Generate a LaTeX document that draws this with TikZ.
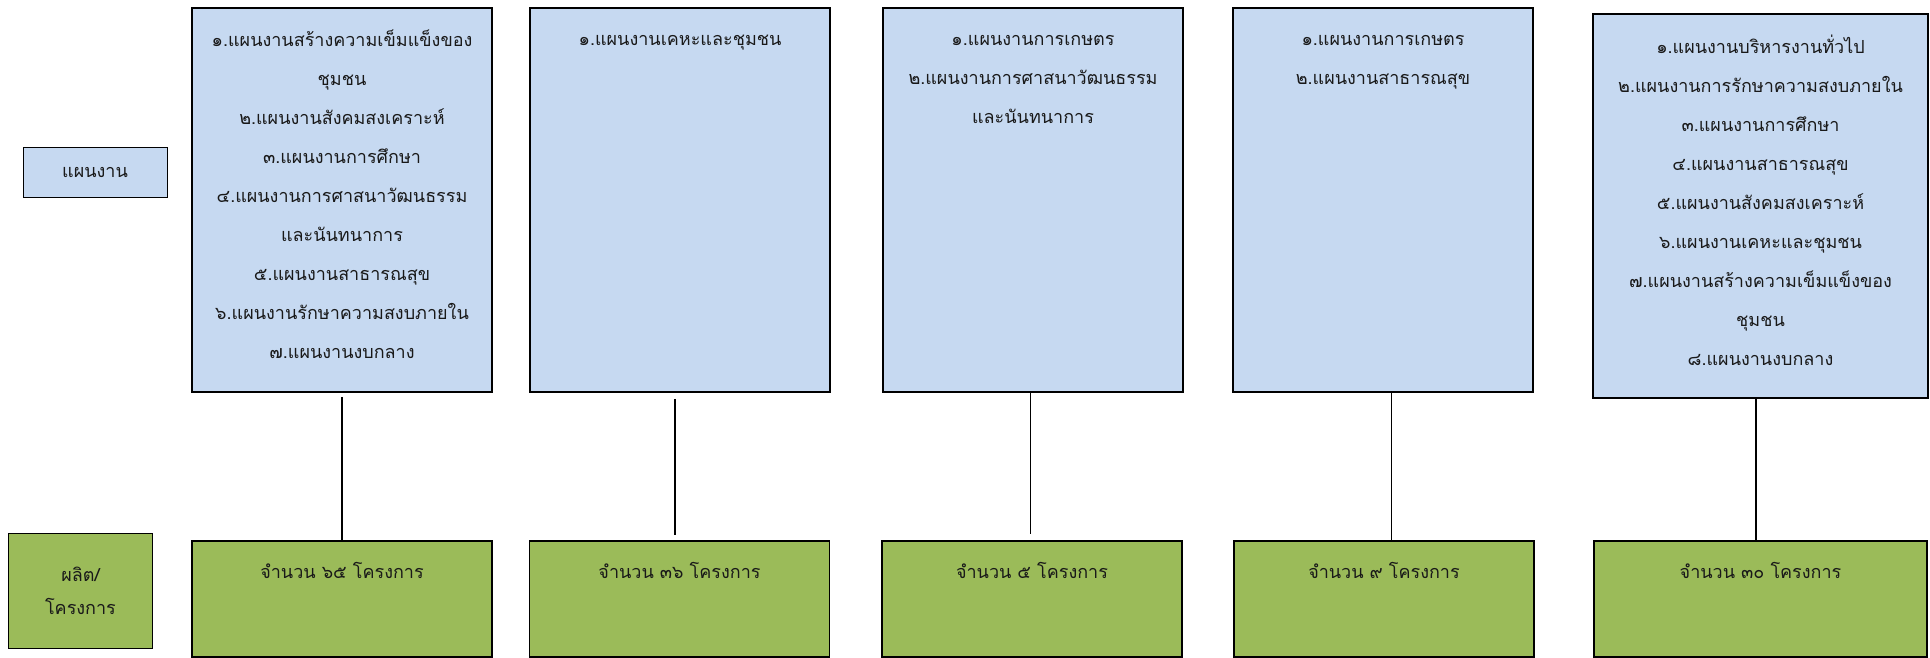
\documentclass[tikz,border=0pt]{standalone}
\usepackage{fontspec}
\newfontfamily\thaifont[Script=Thai]{Loma}
\definecolor{planblue}{HTML}{C6D9F1}
\definecolor{projgreen}{HTML}{9BBB59}
\begin{document}
\begin{tikzpicture}[x=1pt,y=-1pt,
  planbox/.style={draw=black, line width=1.8pt, fill=planblue, minimum width=300pt, minimum height=384pt, inner sep=0pt},
  projbox/.style={draw=black, line width=1.8pt, fill=projgreen, minimum width=300pt, minimum height=116pt, inner sep=0pt},
  labelbox/.style={draw=black, line width=0.9pt, inner sep=0pt},
  bodytext/.style={font=\thaifont\fontsize{18}{39}\selectfont, align=center, inner sep=0pt, anchor=base, text=black!90},
  conn/.style={draw=black, line width=1.4pt}]
\useasboundingbox (0,0) rectangle (1930,658);
% left labels
\node[labelbox, fill=planblue, minimum width=144pt, minimum height=50pt] (lp) at (95,172) {};
\node[bodytext] (lpt) at (95,178) {แผนงาน};
\node[labelbox, fill=projgreen, minimum width=144pt, minimum height=115pt] (lg) at (80.5,590.5) {};
\node[bodytext, font=\thaifont\fontsize{18}{33}\selectfont] (lgt) at (80.5,614) {ผลิต/\\โครงการ};
% plan boxes
\node[planbox] (b1) at (342,200) {};
\node[planbox] (b2) at (680,200) {};
\node[planbox] (b3) at (1033,200) {};
\node[planbox] (b4) at (1383,200) {};
\node[planbox, minimum width=335pt] (b5) at (1760.5,206) {};
% plan texts (anchor = baseline of the last line)
\node[bodytext] (t1) at (342,358) {๑.แผนงานสร้างความเข็มแข็งของ\\ชุมชน\\๒.แผนงานสังคมสงเคราะห์\\๓.แผนงานการศึกษา\\๔.แผนงานการศาสนาวัฒนธรรม\\และนันทนาการ\\๕.แผนงานสาธารณสุข\\๖.แผนงานรักษาความสงบภายใน\\๗.แผนงานงบกลาง};
\node[bodytext] (t2) at (680,46) {๑.แผนงานเคหะและชุมชน};
\node[bodytext] (t3) at (1033,124) {๑.แผนงานการเกษตร\\๒.แผนงานการศาสนาวัฒนธรรม\\และนันทนาการ};
\node[bodytext] (t4) at (1383,85) {๑.แผนงานการเกษตร\\๒.แผนงานสาธารณสุข};
\node[bodytext] (t5) at (1760.5,365) {๑.แผนงานบริหารงานทั่วไป\\๒.แผนงานการรักษาความสงบภายใน\\๓.แผนงานการศึกษา\\๔.แผนงานสาธารณสุข\\๕.แผนงานสังคมสงเคราะห์\\๖.แผนงานเคหะและชุมชน\\๗.แผนงานสร้างความเข็มแข็งของ\\ชุมชน\\๘.แผนงานงบกลาง};
% project boxes
\node[projbox] (g1) at (342,599) {};
\node[projbox] (g2) at (679.5,599) {};
\node[projbox] (g3) at (1032,599) {};
\node[projbox] (g4) at (1384,599) {};
\node[projbox, minimum width=333pt] (g5) at (1760.5,599) {};
\node[bodytext] (p1) at (342,578) {จำนวน ๖๕ โครงการ};
\node[bodytext] (p2) at (679.5,578) {จำนวน ๓๖ โครงการ};
\node[bodytext] (p3) at (1032,578) {จำนวน ๕ โครงการ};
\node[bodytext] (p4) at (1384,578) {จำนวน ๙ โครงการ};
\node[bodytext] (p5) at (1760.5,578) {จำนวน ๓๐ โครงการ};
% connectors
\coordinate (e2) at (675,535);
\coordinate (e3) at (1030.5,534);
\draw[conn] ([yshift=-4pt]b1.south) -- (g1.north);
\draw[conn] ([xshift=-5pt,yshift=-6pt]b2.south) -- (e2);
\draw[conn] ([xshift=-2.5pt]b3.south) -- (e3);
\draw[conn] ([xshift=8.5pt]b4.south) -- ([xshift=7.5pt]g4.north);
\draw[conn] ([xshift=-4.5pt]b5.south) -- ([xshift=-4.5pt]g5.north);
\end{tikzpicture}
\end{document}
